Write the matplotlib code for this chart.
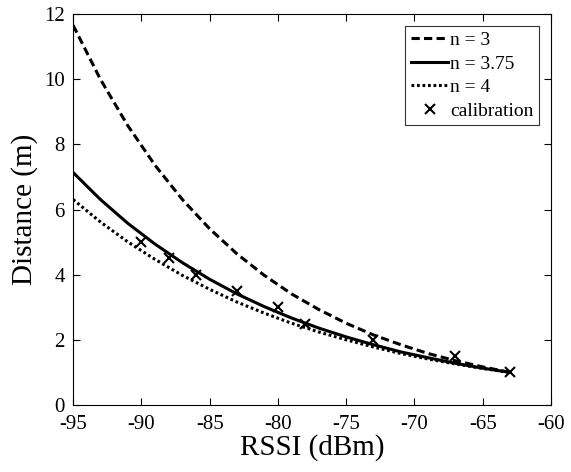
import matplotlib
matplotlib.use("Agg")
import matplotlib.pyplot as plt

plt.rcParams['font.family'] = ['Liberation Serif', 'DejaVu Serif']
plt.rcParams['axes.unicode_minus'] = False

rssi = [-95, -93, -91, -89, -87, -85, -83, -81, -79, -77, -75, -73, -71, -69, -67, -65, -63]
d_n3 = [11.66, 10.0, 8.58, 7.36, 6.31, 5.41, 4.64, 3.98, 3.41, 2.93, 2.51, 2.15, 1.85, 1.58, 1.36, 1.17, 1.0]
d_n375 = [7.14, 6.31, 5.58, 4.94, 4.37, 3.86, 3.41, 3.02, 2.67, 2.36, 2.09, 1.85, 1.63, 1.45, 1.28, 1.13, 1.0]
d_n4 = [6.31, 5.62, 5.01, 4.47, 3.98, 3.55, 3.16, 2.82, 2.51, 2.24, 2.00, 1.78, 1.58, 1.41, 1.26, 1.12, 1.0]

cal_rssi = [-90, -88, -86, -83, -80, -78, -73, -67, -63]
cal_dist = [5.0, 4.5, 4.0, 3.5, 3.0, 2.5, 2.0, 1.5, 1.0]

fig = plt.figure(figsize=(5.71, 4.72), dpi=100)
ax = fig.add_axes([0.128, 0.142, 0.837, 0.828])

ax.plot(rssi, d_n3, color="black", lw=2.2, ls=(0, (2.7, 1.4)), label="n = 3")
ax.plot(rssi, d_n375, color="black", lw=2.2, ls="-", label="n = 3.75")
ax.plot(rssi, d_n4, color="black", lw=2.2, ls=(0, (0.9, 0.9)), label="n = 4")
ax.plot(cal_rssi, cal_dist, ls="none", marker="x", color="black", ms=7, mew=1.5, label="calibration")

ax.set_xlim(-95, -60)
ax.set_ylim(0, 12)
ax.set_xticks(range(-95, -59, 5))
ax.set_yticks(range(0, 13, 2))
ax.tick_params(direction="in", top=True, right=True, labelsize=15, length=5, width=0.8)
ax.tick_params(axis="x", pad=7)
ax.tick_params(axis="y", pad=6)
for s in ax.spines.values():
    s.set_linewidth(0.8)

ax.set_xlabel("RSSI (dBm)", fontsize=21, labelpad=0)
ax.set_ylabel("Distance (m)", fontsize=21, labelpad=4)

leg = ax.legend(loc="upper right", fontsize=14, fancybox=False, edgecolor="black",
                handlelength=1.9, handletextpad=0.1, borderpad=0.3, labelspacing=0.3,
                borderaxespad=0.6)
leg.get_frame().set_linewidth(0.8)

plt.savefig("out.png", dpi=100)
